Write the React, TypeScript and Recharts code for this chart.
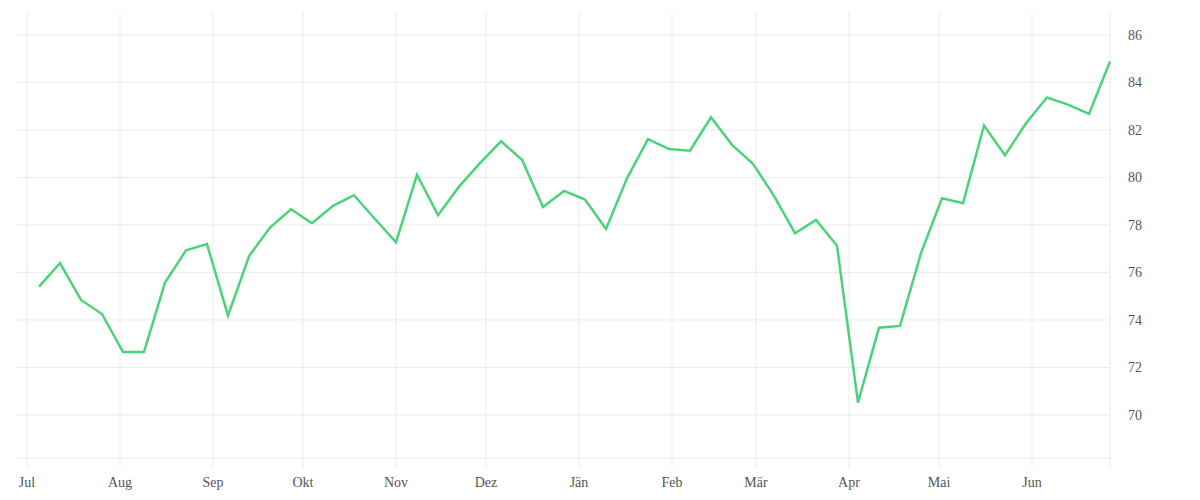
import React from "react";
import { LineChart, Line, XAxis, YAxis, CartesianGrid } from "recharts";

// weekly readings, July to June
const WEEKS = [
  "2018-07-05", "2018-07-12", "2018-07-19", "2018-07-26",
  "2018-08-02", "2018-08-09", "2018-08-16", "2018-08-23", "2018-08-30",
  "2018-09-06", "2018-09-13", "2018-09-20", "2018-09-27",
  "2018-10-04", "2018-10-11", "2018-10-18", "2018-10-25",
  "2018-11-01", "2018-11-08", "2018-11-15", "2018-11-22", "2018-11-29",
  "2018-12-06", "2018-12-13", "2018-12-20", "2018-12-27",
  "2019-01-03", "2019-01-10", "2019-01-17", "2019-01-24", "2019-01-31",
  "2019-02-07", "2019-02-14", "2019-02-21", "2019-02-28",
  "2019-03-07", "2019-03-14", "2019-03-21", "2019-03-28",
  "2019-04-04", "2019-04-11", "2019-04-18", "2019-04-25",
  "2019-05-02", "2019-05-09", "2019-05-16", "2019-05-23", "2019-05-30",
  "2019-06-06", "2019-06-13", "2019-06-20", "2019-06-27",
];

const VALUES = [
  75.4, 76.39, 74.84, 74.25,
  72.65, 72.65, 75.57, 76.93, 77.19,
  74.18, 76.68, 77.89, 78.66,
  78.07, 78.8, 79.25, 78.25,
  77.27, 80.11, 78.41, 79.61, 80.6,
  81.52, 80.74, 78.75, 79.43,
  79.07, 77.83, 79.96, 81.61, 81.19,
  81.12, 82.53, 81.37, 80.57,
  79.22, 77.65, 78.21, 77.12,
  70.52, 73.67, 73.75, 76.81,
  79.12, 78.91, 82.18, 80.93, 82.28,
  83.36, 83.06, 82.67, 84.88,
];

const MONTH_TICKS = [
  "2018-07-01", "2018-08-01", "2018-09-01", "2018-10-01", "2018-11-01",
  "2018-12-01", "2019-01-01", "2019-02-01", "2019-03-01", "2019-04-01",
  "2019-05-01", "2019-06-01", "2019-06-27",
];
const MONTH_LABELS = [
  "Jul", "Aug", "Sep", "Okt", "Nov", "Dez", "Jän",
  "Feb", "Mär", "Apr", "Mai", "Jun", "",
];

const Y_TICKS = [70, 72, 74, 76, 78, 80, 82, 84, 86];

const X_START = "2018-06-27";
const X_END = "2019-06-27";

const data = WEEKS.map((d, i) => ({ t: Date.parse(d), v: VALUES[i] }));
const xTicks = MONTH_TICKS.map((d) => Date.parse(d));

const GRID = "#ebebeb";
const TEXT = "#555";
const FONT = "'Liberation Serif', serif";

export default function App() {
  return (
    <div style={{ width: 1184, height: 484, fontFamily: FONT }}>
      <LineChart
        width={1184}
        height={484}
        data={data}
        margin={{ top: 4, right: 0, left: 7, bottom: 0 }}
      >
        <CartesianGrid stroke={GRID} strokeWidth={1} syncWithTicks />
        <XAxis
          dataKey="t"
          type="number"
          scale="time"
          domain={[Date.parse(X_START), Date.parse(X_END)]}
          ticks={xTicks}
          tickFormatter={(t) => MONTH_LABELS[xTicks.indexOf(t)] ?? ""}
          height={34}
          axisLine={{ stroke: GRID }}
          tickLine={{ stroke: GRID }}
          tickSize={10}
          tickMargin={9}
          tick={{ fontSize: 14, fill: TEXT, fontFamily: FONT }}
          interval={0}
        />
        <YAxis
          orientation="right"
          type="number"
          domain={[68.19, 86.96]}
          ticks={Y_TICKS}
          width={82}
          axisLine={false}
          tickLine={false}
          tickSize={0}
          tickMargin={18}
          tick={{ fontSize: 14, fill: TEXT, fontFamily: FONT, textAnchor: "start" }}
          interval={0}
        />
        <Line
          type="linear"
          dataKey="v"
          stroke="#4cd37a"
          strokeWidth={2.5}
          dot={false}
          activeDot={false}
          isAnimationActive={false}
        />
      </LineChart>
    </div>
  );
}
